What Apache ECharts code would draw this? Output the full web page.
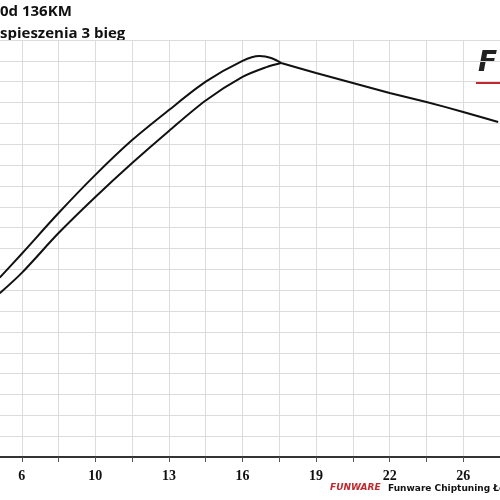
<!DOCTYPE html>
<html>
<head>
<meta charset="utf-8">
<script src="https://cdn.jsdelivr.net/npm/echarts@6/dist/echarts.min.js"></script>
<style>html,body{margin:0;padding:0;background:#fff;overflow:hidden}</style>
</head>
<body>
<div id="main" style="width:537px;height:500px;margin-left:-18px;"></div>
<script>
// etykiety osi X (co druga kratka)
var tickLabels = ['', '6', '', '10', '', '13', '', '16', '', '19', '', '22', '', '26'];
// krzywe (x w jednostkach kratek)
var upperX = [0.4, 1, 2, 3, 4, 5, 6, 7, 7.46, 7.78, 8.05];
var upperY = [8.6, 9.75, 11.7, 13.53, 15.2, 16.64, 18.0, 19.0, 19.23, 19.14, 18.9];
var lowerX = [0.4, 1, 2, 3, 4, 5, 6, 7, 7.65, 8.05];
var lowerY = [7.85, 8.83, 10.74, 12.47, 14.1, 15.64, 17.1, 18.23, 18.7, 18.9];
var tailX = [8.05, 9, 10, 11, 12, 13, 13.95];
var tailY = [18.9, 18.42, 17.94, 17.46, 17.03, 16.55, 16.07];

function zip(xs, ys) {
    return xs.map(function (x, i) { return [x, ys[i]]; });
}

var myChart = echarts.init(document.getElementById('main'));
var lineStyle = {color: '#111', width: 2};
option = {
    animation: false,
    grid: {left: 0, right: 19, top: 40, bottom: 43},
    xAxis: {
        type: 'value', min: 0, max: 14, interval: 1,
        axisLine: {lineStyle: {color: '#333', width: 2}},
        axisTick: {show: true, length: 5, lineStyle: {color: '#555'}},
        axisLabel: {
            margin: 12,
            fontFamily: 'Liberation Serif', fontWeight: 'bold', fontSize: 14, color: '#111',
            formatter: function (v) { return tickLabels[v] || ''; }
        },
        splitLine: {lineStyle: {color: '#dcdcdc'}}
    },
    yAxis: {
        type: 'value', min: 0, max: 20, interval: 1,
        axisLine: {show: false}, axisTick: {show: false}, axisLabel: {show: false},
        splitLine: {lineStyle: {color: '#dcdcdc'}}
    },
    graphic: [
        {type: 'text', left: 18, top: 4, style: {text: '0d 136KM', font: 'bold 15px "Open Sans"', fill: '#111'}},
        {type: 'text', left: 18, top: 26, style: {text: 'spieszenia 3 bieg', font: 'bold 15px "Open Sans"', fill: '#111'}},
        {type: 'text', left: 496, top: 50, style: {text: 'F', font: 'italic bold 28px "DejaVu Sans"', fill: '#222'}},
        {type: 'rect', left: 494, top: 82, shape: {width: 30, height: 2}, style: {fill: '#c0282d'}},
        {type: 'text', left: 348, top: 483, style: {text: 'FUNWARE', font: 'italic bold 9px "DejaVu Sans"', fill: '#c0282d'}},
        {type: 'text', left: 406, top: 484, style: {text: 'Funware Chiptuning Łódź', font: 'bold 9px "DejaVu Sans"', fill: '#111'}}
    ],
    series: [
        {type: 'line', data: zip(upperX, upperY), smooth: 0.3, symbol: 'none', lineStyle: lineStyle},
        {type: 'line', data: zip(lowerX, lowerY), smooth: 0.3, symbol: 'none', lineStyle: lineStyle},
        {type: 'line', data: zip(tailX, tailY), smooth: 0.2, symbol: 'none', lineStyle: lineStyle}
    ]
};
myChart.setOption(option);
</script>
</body>
</html>
